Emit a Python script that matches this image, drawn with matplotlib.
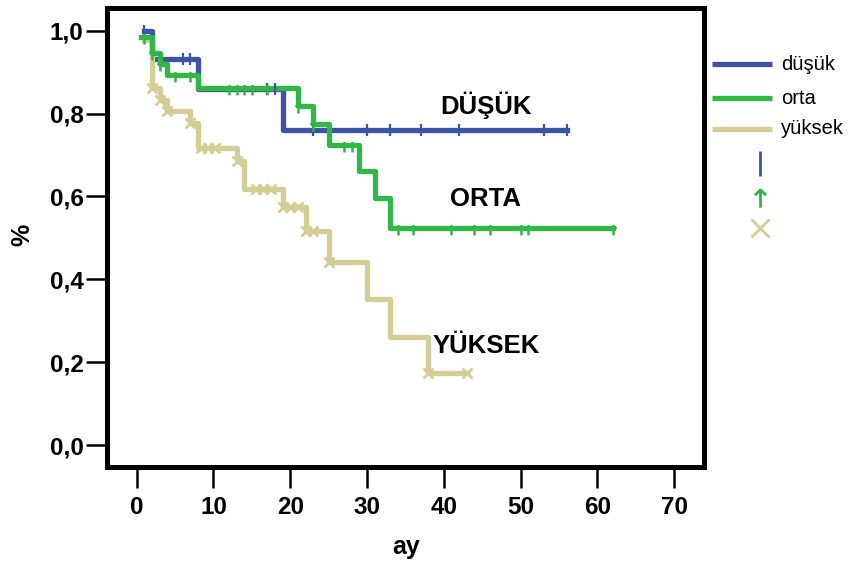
import numpy as np
import matplotlib
matplotlib.use("Agg")
import matplotlib.pyplot as plt
from matplotlib.path import Path

plt.rcParams['font.family'] = ['Liberation Sans', 'DejaVu Sans']

# Kaplan-Meier step curves: event times and survival after each step
dusuk_t = [1, 2, 8, 19, 56]
dusuk_s = [1.0, 0.933, 0.860, 0.760, 0.760]
dusuk_cens = [1, 6, 7, 17, 18, 23, 30, 33, 37, 42, 53, 56]

orta_t = [0.5, 2, 3, 4, 8, 21, 23, 25, 29, 31, 33, 62]
orta_s = [0.985, 0.947, 0.920, 0.893, 0.862, 0.818, 0.775, 0.724, 0.661, 0.596, 0.525, 0.525]
orta_cens = [1, 2, 3, 5, 7, 12, 13, 14, 15, 17, 21, 23, 27, 28,
             34, 36, 41, 44, 46, 50, 51, 62]

yuksek_t = [1, 2, 3, 4, 7, 8, 13, 14, 19, 22, 25, 30, 33, 38, 43]
yuksek_s = [0.978, 0.862, 0.833, 0.806, 0.778, 0.718, 0.685, 0.617, 0.574,
            0.516, 0.441, 0.353, 0.262, 0.174, 0.174]
yuksek_cens = [2, 3, 4, 7, 8.4, 9.3, 10.2, 13, 15.6, 16.4, 17.5, 19, 20, 21,
               22, 23, 25, 38, 43]

labels = ['düşük', 'orta', 'yüksek']
curve_names = ['DÜŞÜK', 'ORTA', 'YÜKSEK']
colors = ['#3b54a6', '#33b648', '#d4cd96']

x_ticks = [0, 10, 20, 30, 40, 50, 60, 70]
y_ticks = [0.0, 0.2, 0.4, 0.6, 0.8, 1.0]

# up-arrow marker for the middle group
arrow = Path([(0, -1), (0, 0.35), (-0.42, -0.05), (0, 0.35), (0.42, -0.05)],
             [Path.MOVETO, Path.LINETO, Path.MOVETO, Path.LINETO, Path.LINETO])


def surv_at(t, s, x):
    idx = np.searchsorted(t, x, side='right') - 1
    return np.asarray(s)[np.clip(idx, 0, len(s) - 1)]


fig = plt.figure(figsize=(8.5, 5.68), dpi=100)
ax = fig.add_axes([107 / 850, 1 - 467 / 568, (704 - 107) / 850, (467 - 8) / 568])

lw = 3.8
ax.step(dusuk_t, dusuk_s, where='post', color=colors[0], lw=lw, zorder=2)
ax.step(orta_t, orta_s, where='post', color=colors[1], lw=lw, zorder=3)
ax.step(yuksek_t, yuksek_s, where='post', color=colors[2], lw=lw, zorder=2)

ax.plot(dusuk_cens, surv_at(dusuk_t, dusuk_s, dusuk_cens), ls='none',
        marker='|', ms=9, mew=1.6, color=colors[0], zorder=4)
ax.plot(orta_cens, surv_at(orta_t, orta_s, orta_cens), ls='none',
        marker=arrow, ms=10, mew=1.8, mfc='none', color=colors[1], zorder=4)
ax.plot(yuksek_cens, surv_at(yuksek_t, yuksek_s, yuksek_cens), ls='none',
        marker='x', ms=7, mew=2, color=colors[2], zorder=4)

for name, (x, y) in zip(curve_names, [(45.5, 0.82), (45.5, 0.593), (45.5, 0.24)]):
    ax.text(x, y, name, fontsize=18.5, fontweight='bold', ha='center', va='center')

ax.set_xlim(-3.87, 73.9)
ax.set_ylim(-0.053, 1.055)
ax.set_xticks(x_ticks)
ax.set_yticks(y_ticks)
ax.set_yticklabels([f'{v:.1f}'.replace('.', ',') for v in y_ticks])
for sp in ax.spines.values():
    sp.set_linewidth(3.6)
ax.tick_params(direction='out', length=15, width=1.8, labelsize=17.5)
ax.tick_params(axis='x', pad=6)
ax.tick_params(axis='y', pad=2)
for lab in ax.get_xticklabels() + ax.get_yticklabels():
    lab.set_fontweight('bold')

fig.text(406 / 850, 1 - 547 / 568, 'ay', fontsize=18, fontweight='bold',
         ha='center', va='center')
fig.text(22 / 850, 1 - 235 / 568, '%', fontsize=18, fontweight='bold',
         ha='center', va='center', rotation=90)

# legend drawn in pixel coordinates on an overlay
lax = fig.add_axes([0, 0, 1, 1])
lax.set_xlim(0, 850)
lax.set_ylim(568, 0)
lax.axis('off')
for lab, c, y in zip(labels, colors, [64, 98, 129]):
    lax.plot([712, 772], [y, y], color=c, lw=lw, solid_capstyle='butt')
    lax.text(781, y, lab, fontsize=14.5, va='center', ha='left')
lax.plot([760], [163], marker='|', ms=18, mew=2, color=colors[0])
lax.plot([760], [194], marker=arrow, ms=19, mew=2, mfc='none', color=colors[1])
lax.plot([760], [228], marker='x', ms=13, mew=2, color=colors[2])

fig.savefig('out.png', dpi=100)
